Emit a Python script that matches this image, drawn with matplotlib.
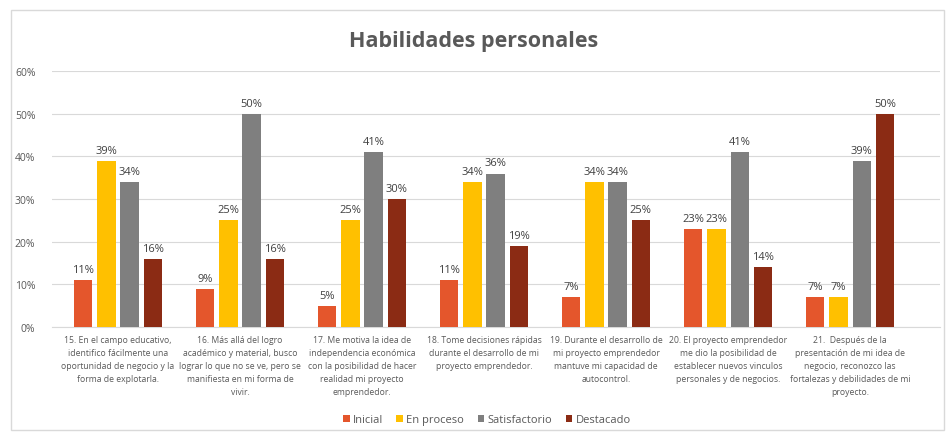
import matplotlib.pyplot as plt
import numpy as np
from matplotlib.patches import Rectangle

categories = [
    "15. En el campo educativo,\nidentifico fácilmente una\noportunidad de negocio y la\nforma de explotarla.",
    "16. Más allá del logro\nacadémico y material, busco\nlograr lo que no se ve, pero se\nmanifiesta en mi forma de\nvivir.",
    "17. Me motiva la idea de\nindependencia económica\ncon la posibilidad de hacer\nrealidad mi proyecto\nemprendedor.",
    "18. Tome decisiones rápidas\ndurante el desarrollo de mi\nproyecto emprendedor.",
    "19. Durante el desarrollo de\nmi proyecto emprendedor\nmantuve mi capacidad de\nautocontrol.",
    "20. El proyecto emprendedor\nme dio la posibilidad de\nestablecer nuevos vinculos\npersonales y de negocios.",
    "21.  Después de la\npresentación de mi idea de\nnegocio, reconozco las\nfortalezas y debilidades de mi\nproyecto.",
]
series = ["Inicial", "En proceso", "Satisfactorio", "Destacado"]
inicial = [11, 9, 5, 11, 7, 23, 7]
en_proceso = [39, 25, 25, 34, 34, 23, 7]
satisfactorio = [34, 50, 41, 36, 34, 41, 39]
destacado = [16, 16, 30, 19, 25, 14, 50]
colors = ["#E4562C", "#FFC000", "#7F7F7F", "#8B2B14"]

plt.rcParams['font.family'] = ['Open Sans', 'DejaVu Sans']

fig = plt.figure(figsize=(9.47, 4.35), dpi=100)
fig.patches.append(Rectangle((0.012, 0.01), 0.985, 0.965, transform=fig.transFigure,
                             fill=False, edgecolor="#D9D9D9", linewidth=1))
ax = fig.add_axes([0.055, 0.246, 0.938, 0.588])

x = np.arange(len(categories))
w = 0.15
step = 0.19
for i, (name, vals) in enumerate(zip(series, [inicial, en_proceso, satisfactorio, destacado])):
    pos = x + (i - 1.5) * step
    bars = ax.bar(pos, vals, width=w, color=colors[i], label=name, zorder=3)
    for b, v in zip(bars, vals):
        ax.text(b.get_x() + b.get_width() / 2, v + 1.2, f"{v}%", ha="center", va="bottom",
                fontsize=8, color="#404040")

ax.set_xlim(-0.54, 6.74)
ax.set_ylim(0, 60)
ax.set_yticks(range(0, 61, 10))
ax.set_yticklabels([f"{t}%" for t in range(0, 61, 10)], fontsize=7.5, color="#595959")
ax.yaxis.grid(True, color="#D9D9D9", linewidth=0.8, zorder=0)
ax.tick_params(axis="y", length=0, pad=12)
ax.set_xticks(x)
ax.set_xticklabels(categories, fontsize=6.2, color="#595959", linespacing=1.55)
ax.tick_params(axis="x", length=0, pad=6)
for s in ["top", "right", "left"]:
    ax.spines[s].set_visible(False)
ax.spines["bottom"].set_color("#D9D9D9")

fig.text(0.5, 0.905, "Habilidades personales", ha="center", va="center",
         fontsize=15.5, fontweight="bold", color="#595959")

fig.legend(loc="center", bbox_to_anchor=(0.514, 0.033), ncol=4, frameon=False,
           fontsize=8, handlelength=0.6, handleheight=0.6, columnspacing=1.2,
           handletextpad=0.3, labelcolor="#595959")

fig.savefig("out.png", dpi=100)
